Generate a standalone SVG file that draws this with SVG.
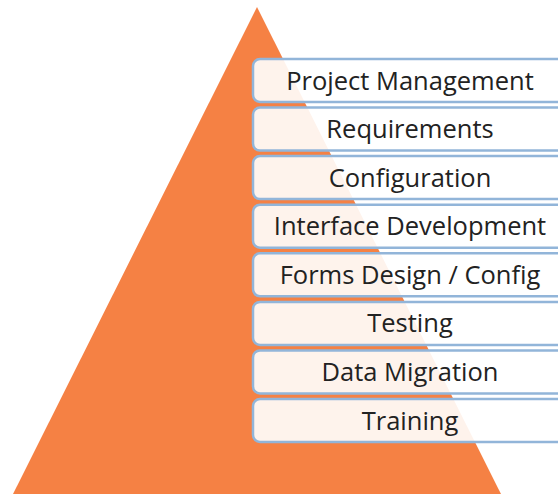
<svg xmlns="http://www.w3.org/2000/svg" width="558" height="494" viewBox="0 0 558 494">
<style>
.box{fill:#ffffff;fill-opacity:0.9;stroke:#92B5D9;stroke-width:2.5}
.lbl{font-family:"Open Sans","Noto Sans",sans-serif;font-size:25.5px;fill:#222222;text-anchor:middle}
</style>
<rect width="558" height="494" fill="#ffffff"/>
<g id="pyramid"><polygon points="257,7 514,520 0,520" fill="#F58144"/></g>
<g id="connectors"></g>
<g id="n1"><rect class="box" x="253" y="59" width="320" height="43" rx="7"/><text class="lbl" x="410" y="89.5">Project Management</text></g>
<g id="n2"><rect class="box" x="253" y="107.6" width="320" height="43" rx="7"/><text class="lbl" x="410" y="138.1">Requirements</text></g>
<g id="n3"><rect class="box" x="253" y="156.1" width="320" height="43" rx="7"/><text class="lbl" x="410" y="186.6">Configuration</text></g>
<g id="n4"><rect class="box" x="253" y="204.7" width="320" height="43" rx="7"/><text class="lbl" x="410" y="235.2">Interface Development</text></g>
<g id="n5"><rect class="box" x="253" y="253.3" width="320" height="43" rx="7"/><text class="lbl" x="410" y="283.8">Forms Design / Config</text></g>
<g id="n6"><rect class="box" x="253" y="301.9" width="320" height="43" rx="7"/><text class="lbl" x="410" y="332.4">Testing</text></g>
<g id="n7"><rect class="box" x="253" y="350.4" width="320" height="43" rx="7"/><text class="lbl" x="410" y="380.9">Data Migration</text></g>
<g id="n8"><rect class="box" x="253" y="399" width="320" height="43" rx="7"/><text class="lbl" x="410" y="429.5">Training</text></g>
</svg>
